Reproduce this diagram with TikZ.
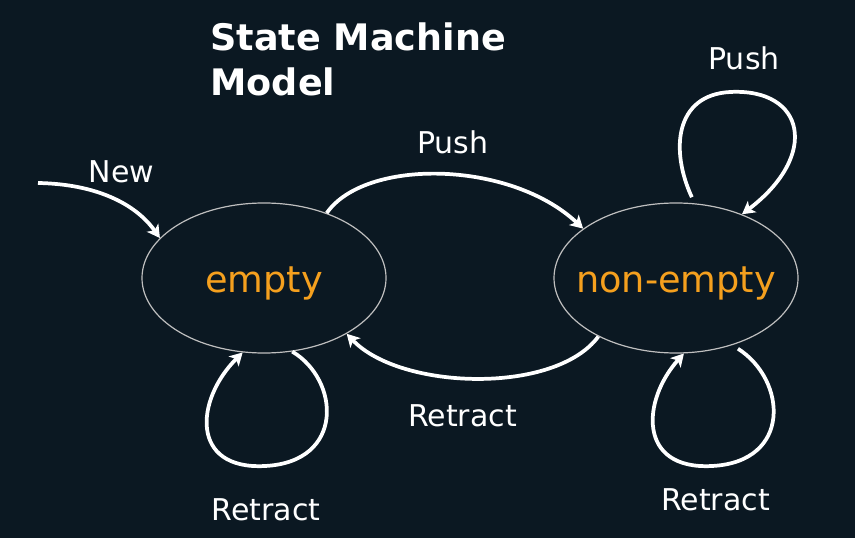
\documentclass[tikz,border=0pt]{standalone}
\usepackage{fontspec}
\setmainfont{DejaVu Sans}
\usetikzlibrary{shapes.geometric,arrows.meta}
\definecolor{bgnavy}{RGB}{11,24,34}
\definecolor{stateorange}{RGB}{245,160,30}
\tikzset{every picture/.style={line width=0.75pt}}

\begin{document}
\begin{tikzpicture}[x=0.75pt,y=0.75pt,yscale=-1,xscale=1,
	state/.style={draw=white!75!black, line width=0.9pt, ellipse, minimum width=183pt, minimum height=112.5pt, inner sep=0pt, text=stateorange, text height=22pt, text depth=0pt, font=\fontsize{27.5}{33}\selectfont},
	trans/.style={draw=white, line width=2.8pt, -{Stealth[length=9.5pt,width=10.5pt,inset=2.5pt]}},
	lbl/.style={anchor=base, inner sep=0.75pt, text=white, font=\fontsize{22.5}{27}\selectfont}]
	%Background
	\path[fill=bgnavy] (0,0) rectangle (855,538);
	
	%Shape: Ellipse
	\node[state] (empty) at (264,278) {\makebox[0pt]{empty}};
	%Shape: Ellipse
	\node[state] (nonempty) at (676,278) {\makebox[0pt]{non-empty}};
	\coordinate (newin) at (38,183);
	
	%Curve Lines
	\draw[trans] (newin) .. controls (95,184) and (135,203) .. (empty.159);
	%Curve Lines
	\draw[trans] (empty.46) .. controls (365,158) and (510,160) .. (nonempty.152.5);
	%Curve Lines
	\draw[trans] (nonempty.-143) .. controls (555,395) and (400,390) .. (empty.-34);
	%Curve Lines
	\draw[trans] (empty.-69) .. controls (340,380) and (345,462) .. (265,466) .. controls (190,470) and (195,400) .. (empty.-106);
	%Curve Lines
	\draw[trans, shorten <=5pt] (nonempty.-50) .. controls (787,380) and (792,462) .. (712,466) .. controls (637,470) and (642,400) .. (nonempty.-84);
	%Curve Lines
	\draw[trans, shorten <=5pt] (nonempty.76) .. controls (670,150) and (675,95) .. (730,92) .. controls (805,88) and (820,155) .. (nonempty.44);
	
	% Text Node
	\node[anchor=north west, inner sep=0pt, align=left, text=white, font=\fontsize{27.4}{33.75}\selectfont\bfseries] (title) at (210,22) {State Machine\\Model};
	% Text Node
	\node[lbl] (lblnew) at (121.5,183) {New};
	% Text Node
	\node[lbl] (lblpush) at (453,154) {Push};
	% Text Node
	\node[lbl] (lblpushloop) at (744,69.5) {Push};
	% Text Node
	\node[lbl] (lblretract) at (462.5,426) {Retract};
	% Text Node
	\node[lbl] (lblretractempty) at (266,520) {Retract};
	% Text Node
	\node[lbl] (lblretractloop) at (715.5,510) {Retract};
\end{tikzpicture}
\end{document}
